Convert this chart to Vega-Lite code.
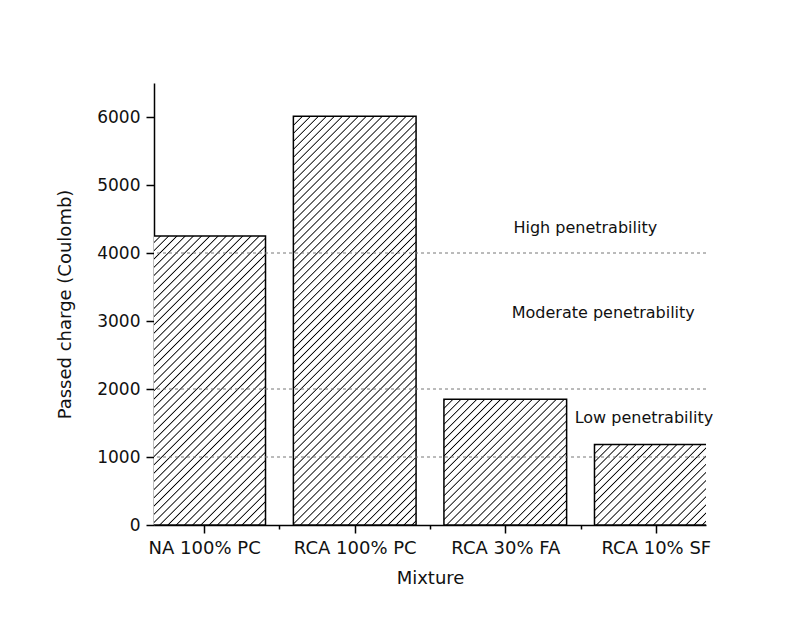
{
"$schema": "https://vega.github.io/schema/vega-lite/v6.json",
"width": 552,
"height": 442,
"autosize": {"type": "none"},
"padding": {"left": 154, "top": 83, "right": 95, "bottom": 96},
"background": "white",
"config": {
  "view": {"stroke": null},
  "font": "DejaVu Sans",
  "axis": {"grid": false, "domainColor": "#000", "domainWidth": 1.5, "tickColor": "#000", "tickWidth": 1.5, "labelColor": "#111", "titleColor": "#111", "titleFontWeight": "normal", "labelFont": "DejaVu Sans", "titleFont": "DejaVu Sans", "labelFlush": false, "labelOverlap": false, "labelBound": false}
},
"datasets": {
  "bars": [
    {"mix": "NA 100% PC", "pos": 1, "charge": 4250},
    {"mix": "RCA 100% PC", "pos": 2, "charge": 6010},
    {"mix": "RCA 30% FA", "pos": 3, "charge": 1850},
    {"mix": "RCA 10% SF", "pos": 4, "charge": 1185}
  ],
  "limits": [{"limit": 1000}, {"limit": 2000}, {"limit": 4000}],
  "notes": [
    {"label": "High penetrability", "px": 3.054, "py": 4368},
    {"label": "Moderate penetrability", "px": 3.043, "py": 3118},
    {"label": "Low penetrability", "px": 3.461, "py": 1574}
  ]
},
"layer": [
  {
    "data": {"name": "bars"},
    "encoding": {
      "x": {"field": "pos", "type": "quantitative", "scale": {"domain": [0.7, 4.3], "nice": false, "zero": false},
        "axis": {"title": "Mixture", "values": [1, 1.5, 2, 2.5, 3, 3.5, 4],
          "labelExpr": "datum.value === 1 ? 'NA 100% PC' : datum.value === 2 ? 'RCA 100% PC' : datum.value === 3 ? 'RCA 30% FA' : datum.value === 4 ? 'RCA 10% SF' : ''",
          "tickSize": 8,
          "tickDash": {"condition": {"test": "datum.value % 1 !== 0", "value": [4, 30]}, "value": [8, 0]},
          "labelPadding": 6, "titlePadding": 12, "labelFontSize": 18, "titleFontSize": 18}},
      "y": {"field": "charge", "type": "quantitative", "scale": {"domain": [0, 6500], "nice": false},
        "axis": {"title": "Passed charge (Coulomb)", "values": [0, 500, 1000, 1500, 2000, 2500, 3000, 3500, 4000, 4500, 5000, 5500, 6000], "format": "d",
          "labelExpr": "datum.value % 1000 === 0 ? datum.label : ''",
          "tickSize": 8,
          "tickDash": {"condition": {"test": "datum.value % 1000 !== 0", "value": [4, 30]}, "value": [8, 0]},
          "labelPadding": 6, "titlePadding": 22, "labelFontSize": 17, "titleFontSize": 18}}
    },
    "layer": [
      {"transform": [{"filter": "datum.pos === 1"}],
       "mark": {"type": "bar", "size": 122.7, "clip": true, "stroke": "#000", "strokeWidth": 1.5,
        "fill": {"gradient": "linear", "x1": 0, "y1": 0, "x2": 0.5125, "y2": 1.207, "stops": [
{"offset":0,"color":"#fff"},{"offset":0.003,"color":"#000"},{"offset":0.006,"color":"#fff"},
{"offset":0.02,"color":"#fff"},{"offset":0.023,"color":"#000"},{"offset":0.026,"color":"#fff"},
{"offset":0.04,"color":"#fff"},{"offset":0.043,"color":"#000"},{"offset":0.046,"color":"#fff"},
{"offset":0.06,"color":"#fff"},{"offset":0.063,"color":"#000"},{"offset":0.066,"color":"#fff"},
{"offset":0.08,"color":"#fff"},{"offset":0.083,"color":"#000"},{"offset":0.086,"color":"#fff"},
{"offset":0.1,"color":"#fff"},{"offset":0.103,"color":"#000"},{"offset":0.106,"color":"#fff"},
{"offset":0.12,"color":"#fff"},{"offset":0.123,"color":"#000"},{"offset":0.126,"color":"#fff"},
{"offset":0.14,"color":"#fff"},{"offset":0.143,"color":"#000"},{"offset":0.146,"color":"#fff"},
{"offset":0.16,"color":"#fff"},{"offset":0.163,"color":"#000"},{"offset":0.166,"color":"#fff"},
{"offset":0.18,"color":"#fff"},{"offset":0.183,"color":"#000"},{"offset":0.186,"color":"#fff"},
{"offset":0.2,"color":"#fff"},{"offset":0.203,"color":"#000"},{"offset":0.206,"color":"#fff"},
{"offset":0.22,"color":"#fff"},{"offset":0.223,"color":"#000"},{"offset":0.226,"color":"#fff"},
{"offset":0.24,"color":"#fff"},{"offset":0.243,"color":"#000"},{"offset":0.246,"color":"#fff"},
{"offset":0.26,"color":"#fff"},{"offset":0.263,"color":"#000"},{"offset":0.266,"color":"#fff"},
{"offset":0.28,"color":"#fff"},{"offset":0.283,"color":"#000"},{"offset":0.286,"color":"#fff"},
{"offset":0.3,"color":"#fff"},{"offset":0.303,"color":"#000"},{"offset":0.306,"color":"#fff"},
{"offset":0.32,"color":"#fff"},{"offset":0.323,"color":"#000"},{"offset":0.326,"color":"#fff"},
{"offset":0.34,"color":"#fff"},{"offset":0.343,"color":"#000"},{"offset":0.346,"color":"#fff"},
{"offset":0.36,"color":"#fff"},{"offset":0.363,"color":"#000"},{"offset":0.366,"color":"#fff"},
{"offset":0.38,"color":"#fff"},{"offset":0.383,"color":"#000"},{"offset":0.386,"color":"#fff"},
{"offset":0.4,"color":"#fff"},{"offset":0.403,"color":"#000"},{"offset":0.406,"color":"#fff"},
{"offset":0.42,"color":"#fff"},{"offset":0.423,"color":"#000"},{"offset":0.426,"color":"#fff"},
{"offset":0.44,"color":"#fff"},{"offset":0.443,"color":"#000"},{"offset":0.446,"color":"#fff"},
{"offset":0.46,"color":"#fff"},{"offset":0.463,"color":"#000"},{"offset":0.466,"color":"#fff"},
{"offset":0.48,"color":"#fff"},{"offset":0.483,"color":"#000"},{"offset":0.486,"color":"#fff"},
{"offset":0.5,"color":"#fff"},{"offset":0.503,"color":"#000"},{"offset":0.506,"color":"#fff"},
{"offset":0.52,"color":"#fff"},{"offset":0.523,"color":"#000"},{"offset":0.526,"color":"#fff"},
{"offset":0.54,"color":"#fff"},{"offset":0.543,"color":"#000"},{"offset":0.546,"color":"#fff"},
{"offset":0.56,"color":"#fff"},{"offset":0.563,"color":"#000"},{"offset":0.566,"color":"#fff"},
{"offset":0.58,"color":"#fff"},{"offset":0.583,"color":"#000"},{"offset":0.586,"color":"#fff"},
{"offset":0.6,"color":"#fff"},{"offset":0.603,"color":"#000"},{"offset":0.606,"color":"#fff"},
{"offset":0.62,"color":"#fff"},{"offset":0.623,"color":"#000"},{"offset":0.626,"color":"#fff"},
{"offset":0.64,"color":"#fff"},{"offset":0.643,"color":"#000"},{"offset":0.646,"color":"#fff"},
{"offset":0.66,"color":"#fff"},{"offset":0.663,"color":"#000"},{"offset":0.666,"color":"#fff"},
{"offset":0.68,"color":"#fff"},{"offset":0.683,"color":"#000"},{"offset":0.686,"color":"#fff"},
{"offset":0.7,"color":"#fff"},{"offset":0.703,"color":"#000"},{"offset":0.706,"color":"#fff"},
{"offset":0.72,"color":"#fff"},{"offset":0.723,"color":"#000"},{"offset":0.726,"color":"#fff"},
{"offset":0.74,"color":"#fff"},{"offset":0.743,"color":"#000"},{"offset":0.746,"color":"#fff"},
{"offset":0.76,"color":"#fff"},{"offset":0.763,"color":"#000"},{"offset":0.766,"color":"#fff"},
{"offset":0.78,"color":"#fff"},{"offset":0.783,"color":"#000"},{"offset":0.786,"color":"#fff"},
{"offset":0.8,"color":"#fff"},{"offset":0.803,"color":"#000"},{"offset":0.806,"color":"#fff"},
{"offset":0.82,"color":"#fff"},{"offset":0.823,"color":"#000"},{"offset":0.826,"color":"#fff"},
{"offset":0.84,"color":"#fff"},{"offset":0.843,"color":"#000"},{"offset":0.846,"color":"#fff"},
{"offset":0.86,"color":"#fff"},{"offset":0.863,"color":"#000"},{"offset":0.866,"color":"#fff"},
{"offset":0.88,"color":"#fff"},{"offset":0.883,"color":"#000"},{"offset":0.886,"color":"#fff"},
{"offset":0.9,"color":"#fff"},{"offset":0.903,"color":"#000"},{"offset":0.906,"color":"#fff"},
{"offset":0.92,"color":"#fff"},{"offset":0.923,"color":"#000"},{"offset":0.926,"color":"#fff"},
{"offset":0.94,"color":"#fff"},{"offset":0.943,"color":"#000"},{"offset":0.946,"color":"#fff"},
{"offset":0.96,"color":"#fff"},{"offset":0.963,"color":"#000"},{"offset":0.966,"color":"#fff"},
{"offset":0.98,"color":"#fff"},{"offset":0.983,"color":"#000"},{"offset":0.986,"color":"#fff"},
{"offset":1,"color":"#fff"}
        ]}}},
      {"transform": [{"filter": "datum.pos === 2"}],
       "mark": {"type": "bar", "size": 122.7, "clip": true, "stroke": "#000", "strokeWidth": 1.5,
        "fill": {"gradient": "linear", "x1": 0, "y1": 0, "x2": 0.3581, "y2": 1.1927, "stops": [
{"offset":0,"color":"#fff"},{"offset":0.00225,"color":"#000"},{"offset":0.0045,"color":"#fff"},
{"offset":0.015,"color":"#fff"},{"offset":0.01725,"color":"#000"},{"offset":0.0195,"color":"#fff"},
{"offset":0.03,"color":"#fff"},{"offset":0.03225,"color":"#000"},{"offset":0.0345,"color":"#fff"},
{"offset":0.045,"color":"#fff"},{"offset":0.04725,"color":"#000"},{"offset":0.0495,"color":"#fff"},
{"offset":0.06,"color":"#fff"},{"offset":0.06225,"color":"#000"},{"offset":0.0645,"color":"#fff"},
{"offset":0.075,"color":"#fff"},{"offset":0.07725,"color":"#000"},{"offset":0.0795,"color":"#fff"},
{"offset":0.09,"color":"#fff"},{"offset":0.09225,"color":"#000"},{"offset":0.0945,"color":"#fff"},
{"offset":0.105,"color":"#fff"},{"offset":0.10725,"color":"#000"},{"offset":0.1095,"color":"#fff"},
{"offset":0.12,"color":"#fff"},{"offset":0.12225,"color":"#000"},{"offset":0.1245,"color":"#fff"},
{"offset":0.135,"color":"#fff"},{"offset":0.13725,"color":"#000"},{"offset":0.1395,"color":"#fff"},
{"offset":0.15,"color":"#fff"},{"offset":0.15225,"color":"#000"},{"offset":0.1545,"color":"#fff"},
{"offset":0.165,"color":"#fff"},{"offset":0.16725,"color":"#000"},{"offset":0.1695,"color":"#fff"},
{"offset":0.18,"color":"#fff"},{"offset":0.18225,"color":"#000"},{"offset":0.1845,"color":"#fff"},
{"offset":0.195,"color":"#fff"},{"offset":0.19725,"color":"#000"},{"offset":0.1995,"color":"#fff"},
{"offset":0.21,"color":"#fff"},{"offset":0.21225,"color":"#000"},{"offset":0.2145,"color":"#fff"},
{"offset":0.225,"color":"#fff"},{"offset":0.22725,"color":"#000"},{"offset":0.2295,"color":"#fff"},
{"offset":0.24,"color":"#fff"},{"offset":0.24225,"color":"#000"},{"offset":0.2445,"color":"#fff"},
{"offset":0.255,"color":"#fff"},{"offset":0.25725,"color":"#000"},{"offset":0.2595,"color":"#fff"},
{"offset":0.27,"color":"#fff"},{"offset":0.27225,"color":"#000"},{"offset":0.2745,"color":"#fff"},
{"offset":0.285,"color":"#fff"},{"offset":0.28725,"color":"#000"},{"offset":0.2895,"color":"#fff"},
{"offset":0.3,"color":"#fff"},{"offset":0.30225,"color":"#000"},{"offset":0.3045,"color":"#fff"},
{"offset":0.315,"color":"#fff"},{"offset":0.31725,"color":"#000"},{"offset":0.3195,"color":"#fff"},
{"offset":0.33,"color":"#fff"},{"offset":0.33225,"color":"#000"},{"offset":0.3345,"color":"#fff"},
{"offset":0.345,"color":"#fff"},{"offset":0.34725,"color":"#000"},{"offset":0.3495,"color":"#fff"},
{"offset":0.36,"color":"#fff"},{"offset":0.36225,"color":"#000"},{"offset":0.3645,"color":"#fff"},
{"offset":0.375,"color":"#fff"},{"offset":0.37725,"color":"#000"},{"offset":0.3795,"color":"#fff"},
{"offset":0.39,"color":"#fff"},{"offset":0.39225,"color":"#000"},{"offset":0.3945,"color":"#fff"},
{"offset":0.405,"color":"#fff"},{"offset":0.40725,"color":"#000"},{"offset":0.4095,"color":"#fff"},
{"offset":0.42,"color":"#fff"},{"offset":0.42225,"color":"#000"},{"offset":0.4245,"color":"#fff"},
{"offset":0.435,"color":"#fff"},{"offset":0.43725,"color":"#000"},{"offset":0.4395,"color":"#fff"},
{"offset":0.45,"color":"#fff"},{"offset":0.45225,"color":"#000"},{"offset":0.4545,"color":"#fff"},
{"offset":0.465,"color":"#fff"},{"offset":0.46725,"color":"#000"},{"offset":0.4695,"color":"#fff"},
{"offset":0.48,"color":"#fff"},{"offset":0.48225,"color":"#000"},{"offset":0.4845,"color":"#fff"},
{"offset":0.495,"color":"#fff"},{"offset":0.49725,"color":"#000"},{"offset":0.4995,"color":"#fff"},
{"offset":0.51,"color":"#fff"},{"offset":0.51225,"color":"#000"},{"offset":0.5145,"color":"#fff"},
{"offset":0.525,"color":"#fff"},{"offset":0.52725,"color":"#000"},{"offset":0.5295,"color":"#fff"},
{"offset":0.54,"color":"#fff"},{"offset":0.54225,"color":"#000"},{"offset":0.5445,"color":"#fff"},
{"offset":0.555,"color":"#fff"},{"offset":0.55725,"color":"#000"},{"offset":0.5595,"color":"#fff"},
{"offset":0.57,"color":"#fff"},{"offset":0.57225,"color":"#000"},{"offset":0.5745,"color":"#fff"},
{"offset":0.585,"color":"#fff"},{"offset":0.58725,"color":"#000"},{"offset":0.5895,"color":"#fff"},
{"offset":0.6,"color":"#fff"},{"offset":0.60225,"color":"#000"},{"offset":0.6045,"color":"#fff"},
{"offset":0.615,"color":"#fff"},{"offset":0.61725,"color":"#000"},{"offset":0.6195,"color":"#fff"},
{"offset":0.63,"color":"#fff"},{"offset":0.63225,"color":"#000"},{"offset":0.6345,"color":"#fff"},
{"offset":0.645,"color":"#fff"},{"offset":0.64725,"color":"#000"},{"offset":0.6495,"color":"#fff"},
{"offset":0.66,"color":"#fff"},{"offset":0.66225,"color":"#000"},{"offset":0.6645,"color":"#fff"},
{"offset":0.675,"color":"#fff"},{"offset":0.67725,"color":"#000"},{"offset":0.6795,"color":"#fff"},
{"offset":0.69,"color":"#fff"},{"offset":0.69225,"color":"#000"},{"offset":0.6945,"color":"#fff"},
{"offset":0.705,"color":"#fff"},{"offset":0.70725,"color":"#000"},{"offset":0.7095,"color":"#fff"},
{"offset":0.72,"color":"#fff"},{"offset":0.72225,"color":"#000"},{"offset":0.7245,"color":"#fff"},
{"offset":0.735,"color":"#fff"},{"offset":0.73725,"color":"#000"},{"offset":0.7395,"color":"#fff"},
{"offset":0.75,"color":"#fff"},{"offset":0.75225,"color":"#000"},{"offset":0.7545,"color":"#fff"},
{"offset":0.765,"color":"#fff"},{"offset":0.76725,"color":"#000"},{"offset":0.7695,"color":"#fff"},
{"offset":0.78,"color":"#fff"},{"offset":0.78225,"color":"#000"},{"offset":0.7845,"color":"#fff"},
{"offset":0.795,"color":"#fff"},{"offset":0.79725,"color":"#000"},{"offset":0.7995,"color":"#fff"},
{"offset":0.81,"color":"#fff"},{"offset":0.81225,"color":"#000"},{"offset":0.8145,"color":"#fff"},
{"offset":0.825,"color":"#fff"},{"offset":0.82725,"color":"#000"},{"offset":0.8295,"color":"#fff"},
{"offset":0.84,"color":"#fff"},{"offset":0.84225,"color":"#000"},{"offset":0.8445,"color":"#fff"},
{"offset":0.855,"color":"#fff"},{"offset":0.85725,"color":"#000"},{"offset":0.8595,"color":"#fff"},
{"offset":0.87,"color":"#fff"},{"offset":0.87225,"color":"#000"},{"offset":0.8745,"color":"#fff"},
{"offset":0.885,"color":"#fff"},{"offset":0.88725,"color":"#000"},{"offset":0.8895,"color":"#fff"},
{"offset":0.9,"color":"#fff"},{"offset":0.90225,"color":"#000"},{"offset":0.9045,"color":"#fff"},
{"offset":0.915,"color":"#fff"},{"offset":0.91725,"color":"#000"},{"offset":0.9195,"color":"#fff"},
{"offset":0.93,"color":"#fff"},{"offset":0.93225,"color":"#000"},{"offset":0.9345,"color":"#fff"},
{"offset":0.945,"color":"#fff"},{"offset":0.94725,"color":"#000"},{"offset":0.9495,"color":"#fff"},
{"offset":0.96,"color":"#fff"},{"offset":0.96225,"color":"#000"},{"offset":0.9645,"color":"#fff"},
{"offset":0.975,"color":"#fff"},{"offset":0.97725,"color":"#000"},{"offset":0.9795,"color":"#fff"},
{"offset":0.99,"color":"#fff"},{"offset":0.99225,"color":"#000"},{"offset":0.9945,"color":"#fff"},
{"offset":1,"color":"#fff"}
        ]}}},
      {"transform": [{"filter": "datum.pos === 3"}],
       "mark": {"type": "bar", "size": 122.7, "clip": true, "stroke": "#000", "strokeWidth": 1.5,
        "fill": {"gradient": "linear", "x1": 0, "y1": 0, "x2": 0.9874, "y2": 1.0123, "stops": [
{"offset":0,"color":"#fff"},{"offset":0.0048,"color":"#000"},{"offset":0.0096,"color":"#fff"},
{"offset":0.032,"color":"#fff"},{"offset":0.0368,"color":"#000"},{"offset":0.0416,"color":"#fff"},
{"offset":0.064,"color":"#fff"},{"offset":0.0688,"color":"#000"},{"offset":0.0736,"color":"#fff"},
{"offset":0.096,"color":"#fff"},{"offset":0.1008,"color":"#000"},{"offset":0.1056,"color":"#fff"},
{"offset":0.128,"color":"#fff"},{"offset":0.1328,"color":"#000"},{"offset":0.1376,"color":"#fff"},
{"offset":0.16,"color":"#fff"},{"offset":0.1648,"color":"#000"},{"offset":0.1696,"color":"#fff"},
{"offset":0.192,"color":"#fff"},{"offset":0.1968,"color":"#000"},{"offset":0.2016,"color":"#fff"},
{"offset":0.224,"color":"#fff"},{"offset":0.2288,"color":"#000"},{"offset":0.2336,"color":"#fff"},
{"offset":0.256,"color":"#fff"},{"offset":0.2608,"color":"#000"},{"offset":0.2656,"color":"#fff"},
{"offset":0.288,"color":"#fff"},{"offset":0.2928,"color":"#000"},{"offset":0.2976,"color":"#fff"},
{"offset":0.32,"color":"#fff"},{"offset":0.3248,"color":"#000"},{"offset":0.3296,"color":"#fff"},
{"offset":0.352,"color":"#fff"},{"offset":0.3568,"color":"#000"},{"offset":0.3616,"color":"#fff"},
{"offset":0.384,"color":"#fff"},{"offset":0.3888,"color":"#000"},{"offset":0.3936,"color":"#fff"},
{"offset":0.416,"color":"#fff"},{"offset":0.4208,"color":"#000"},{"offset":0.4256,"color":"#fff"},
{"offset":0.448,"color":"#fff"},{"offset":0.4528,"color":"#000"},{"offset":0.4576,"color":"#fff"},
{"offset":0.48,"color":"#fff"},{"offset":0.4848,"color":"#000"},{"offset":0.4896,"color":"#fff"},
{"offset":0.512,"color":"#fff"},{"offset":0.5168,"color":"#000"},{"offset":0.5216,"color":"#fff"},
{"offset":0.544,"color":"#fff"},{"offset":0.5488,"color":"#000"},{"offset":0.5536,"color":"#fff"},
{"offset":0.576,"color":"#fff"},{"offset":0.5808,"color":"#000"},{"offset":0.5856,"color":"#fff"},
{"offset":0.608,"color":"#fff"},{"offset":0.6128,"color":"#000"},{"offset":0.6176,"color":"#fff"},
{"offset":0.64,"color":"#fff"},{"offset":0.6448,"color":"#000"},{"offset":0.6496,"color":"#fff"},
{"offset":0.672,"color":"#fff"},{"offset":0.6768,"color":"#000"},{"offset":0.6816,"color":"#fff"},
{"offset":0.704,"color":"#fff"},{"offset":0.7088,"color":"#000"},{"offset":0.7136,"color":"#fff"},
{"offset":0.736,"color":"#fff"},{"offset":0.7408,"color":"#000"},{"offset":0.7456,"color":"#fff"},
{"offset":0.768,"color":"#fff"},{"offset":0.7728,"color":"#000"},{"offset":0.7776,"color":"#fff"},
{"offset":0.8,"color":"#fff"},{"offset":0.8048,"color":"#000"},{"offset":0.8096,"color":"#fff"},
{"offset":0.832,"color":"#fff"},{"offset":0.8368,"color":"#000"},{"offset":0.8416,"color":"#fff"},
{"offset":0.864,"color":"#fff"},{"offset":0.8688,"color":"#000"},{"offset":0.8736,"color":"#fff"},
{"offset":0.896,"color":"#fff"},{"offset":0.9008,"color":"#000"},{"offset":0.9056,"color":"#fff"},
{"offset":0.928,"color":"#fff"},{"offset":0.9328,"color":"#000"},{"offset":0.9376,"color":"#fff"},
{"offset":0.96,"color":"#fff"},{"offset":0.9648,"color":"#000"},{"offset":0.9696,"color":"#fff"},
{"offset":0.992,"color":"#fff"},{"offset":0.9968,"color":"#000"},{"offset":1,"color":"#fff"}
        ]}}},
      {"transform": [{"filter": "datum.pos === 4"}],
       "mark": {"type": "bar", "size": 122.7, "clip": true, "stroke": "#000", "strokeWidth": 1.5,
        "fill": {"gradient": "linear", "x1": 0, "y1": 0, "x2": 1.1575, "y2": 0.7603, "stops": [
{"offset":0,"color":"#fff"},{"offset":0.006,"color":"#000"},{"offset":0.012,"color":"#fff"},
{"offset":0.04,"color":"#fff"},{"offset":0.046,"color":"#000"},{"offset":0.052,"color":"#fff"},
{"offset":0.08,"color":"#fff"},{"offset":0.086,"color":"#000"},{"offset":0.092,"color":"#fff"},
{"offset":0.12,"color":"#fff"},{"offset":0.126,"color":"#000"},{"offset":0.132,"color":"#fff"},
{"offset":0.16,"color":"#fff"},{"offset":0.166,"color":"#000"},{"offset":0.172,"color":"#fff"},
{"offset":0.2,"color":"#fff"},{"offset":0.206,"color":"#000"},{"offset":0.212,"color":"#fff"},
{"offset":0.24,"color":"#fff"},{"offset":0.246,"color":"#000"},{"offset":0.252,"color":"#fff"},
{"offset":0.28,"color":"#fff"},{"offset":0.286,"color":"#000"},{"offset":0.292,"color":"#fff"},
{"offset":0.32,"color":"#fff"},{"offset":0.326,"color":"#000"},{"offset":0.332,"color":"#fff"},
{"offset":0.36,"color":"#fff"},{"offset":0.366,"color":"#000"},{"offset":0.372,"color":"#fff"},
{"offset":0.4,"color":"#fff"},{"offset":0.406,"color":"#000"},{"offset":0.412,"color":"#fff"},
{"offset":0.44,"color":"#fff"},{"offset":0.446,"color":"#000"},{"offset":0.452,"color":"#fff"},
{"offset":0.48,"color":"#fff"},{"offset":0.486,"color":"#000"},{"offset":0.492,"color":"#fff"},
{"offset":0.52,"color":"#fff"},{"offset":0.526,"color":"#000"},{"offset":0.532,"color":"#fff"},
{"offset":0.56,"color":"#fff"},{"offset":0.566,"color":"#000"},{"offset":0.572,"color":"#fff"},
{"offset":0.6,"color":"#fff"},{"offset":0.606,"color":"#000"},{"offset":0.612,"color":"#fff"},
{"offset":0.64,"color":"#fff"},{"offset":0.646,"color":"#000"},{"offset":0.652,"color":"#fff"},
{"offset":0.68,"color":"#fff"},{"offset":0.686,"color":"#000"},{"offset":0.692,"color":"#fff"},
{"offset":0.72,"color":"#fff"},{"offset":0.726,"color":"#000"},{"offset":0.732,"color":"#fff"},
{"offset":0.76,"color":"#fff"},{"offset":0.766,"color":"#000"},{"offset":0.772,"color":"#fff"},
{"offset":0.8,"color":"#fff"},{"offset":0.806,"color":"#000"},{"offset":0.812,"color":"#fff"},
{"offset":0.84,"color":"#fff"},{"offset":0.846,"color":"#000"},{"offset":0.852,"color":"#fff"},
{"offset":0.88,"color":"#fff"},{"offset":0.886,"color":"#000"},{"offset":0.892,"color":"#fff"},
{"offset":0.92,"color":"#fff"},{"offset":0.926,"color":"#000"},{"offset":0.932,"color":"#fff"},
{"offset":0.96,"color":"#fff"},{"offset":0.966,"color":"#000"},{"offset":0.972,"color":"#fff"},
{"offset":1,"color":"#fff"}
        ]}}}
    ]
  },
  {
    "data": {"name": "limits"},
    "mark": {"type": "rule", "color": "#777", "strokeWidth": 1, "strokeDash": [3, 3]},
    "encoding": {"y": {"field": "limit", "type": "quantitative", "scale": {"domain": [0, 6500], "nice": false}}}
  },
  {
    "data": {"name": "notes"},
    "mark": {"type": "text", "align": "left", "baseline": "middle", "fontSize": 16, "color": "#111", "font": "DejaVu Sans"},
    "encoding": {
      "x": {"field": "px", "type": "quantitative", "scale": {"domain": [0.7, 4.3], "nice": false, "zero": false}},
      "y": {"field": "py", "type": "quantitative", "scale": {"domain": [0, 6500], "nice": false}},
      "text": {"field": "label"}
    }
  }
]
}
